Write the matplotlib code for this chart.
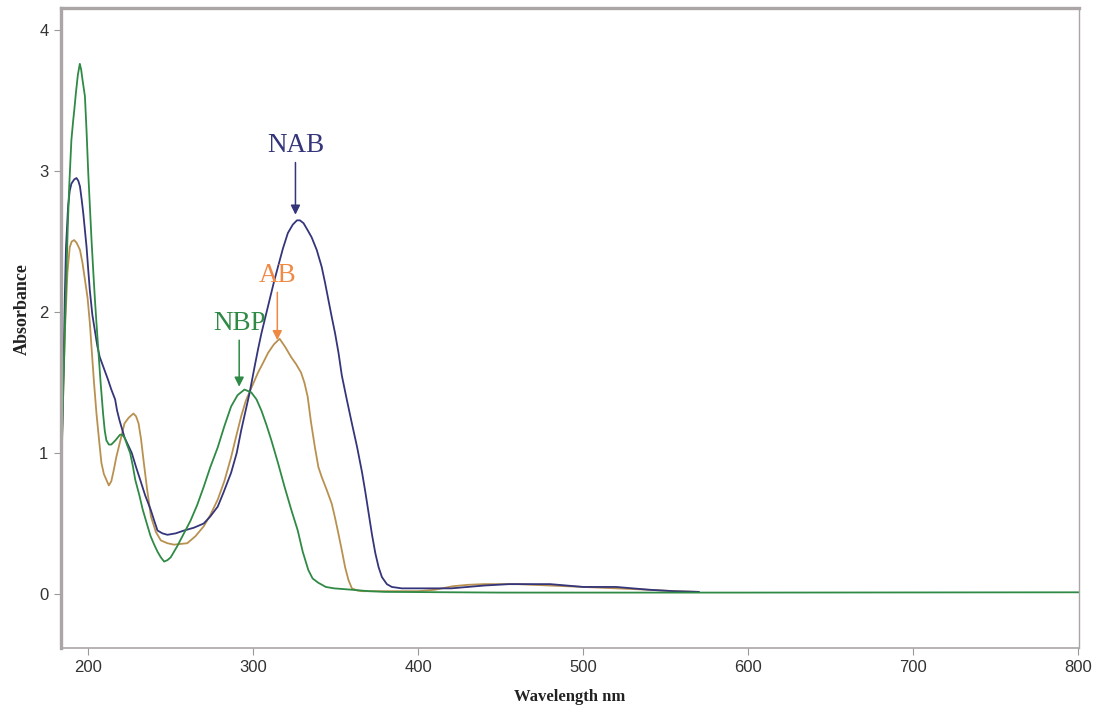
import matplotlib
matplotlib.use("Agg")
import matplotlib.pyplot as plt

# UV-Vis absorption spectra of three compounds
nab_wl = [184.0, 185.0, 185.8, 186.5, 187.8, 188.8, 189.8, 191.5, 192.9, 194.0, 195.0,
          196.0, 197.0, 198.0, 199.0, 200.0, 201.0, 202.5, 204.0, 205.5, 207.0, 209.5,
          212.0, 214.0, 216.3, 217.5, 219.0, 220.5, 222.0, 224.0, 226.4, 229.0, 231.5,
          234.5, 237.8, 240.0, 242.0, 245.0, 248.0, 253.0, 258.0, 264.0, 270.0, 274.0,
          278.5, 282.0, 286.6, 290.0, 292.7, 295.0, 297.7, 300.8, 303.0, 305.0, 307.5,
          310.0, 312.5, 315.0, 318.0, 321.0, 324.0, 326.5, 328.3, 330.5, 333.0, 335.4,
          338.5, 341.5, 343.5, 345.5, 347.5, 349.6, 351.7, 353.7, 356.7, 359.8, 363.0,
          366.0, 368.0, 370.0, 372.0, 374.0, 376.0, 378.0, 381.0, 384.0, 390.0, 400.0,
          420.0, 430.0, 440.0, 455.0, 480.0, 490.0, 500.0, 520.0, 530.0, 540.0, 555.0,
          570.0]
nab_abs = [1.05, 1.60, 2.10, 2.45, 2.75, 2.86, 2.91, 2.94, 2.95, 2.93, 2.89,
           2.80, 2.70, 2.58, 2.46, 2.30, 2.15, 1.98, 1.87, 1.76, 1.68, 1.60,
           1.52, 1.45, 1.38, 1.30, 1.23, 1.17, 1.11, 1.06, 1.00, 0.90, 0.81,
           0.70, 0.60, 0.52, 0.45, 0.43, 0.42, 0.43, 0.45, 0.47, 0.50, 0.55,
           0.62, 0.72, 0.86, 1.00, 1.16, 1.28, 1.42, 1.61, 1.74, 1.85, 1.97,
           2.09, 2.21, 2.32, 2.45, 2.56, 2.62, 2.65, 2.65, 2.63, 2.58, 2.53,
           2.44, 2.32, 2.21, 2.09, 1.97, 1.85, 1.71, 1.55, 1.38, 1.21, 1.04,
           0.86, 0.72, 0.57, 0.42, 0.29, 0.19, 0.12, 0.07, 0.05, 0.04, 0.04,
           0.04, 0.05, 0.06, 0.07, 0.07, 0.06, 0.05, 0.05, 0.04, 0.03, 0.02,
           0.015]

ab_wl = [184.0, 185.0, 186.0, 187.4, 188.8, 190.0, 191.5, 193.0, 195.0, 196.5, 198.0,
         199.6, 201.0, 202.0, 203.5, 205.0, 206.5, 208.0, 209.5, 211.0, 212.5, 214.0,
         215.5, 217.0, 219.5, 222.0, 224.5, 227.4, 229.0, 230.5, 232.0, 233.5, 235.6,
         238.0, 241.0, 244.0, 248.0, 252.0, 256.0, 260.0, 265.0, 270.0, 274.0, 278.5,
         282.5, 286.6, 289.5, 292.7, 295.5, 298.8, 302.9, 306.0, 309.0, 312.5, 316.0,
         319.5, 323.0, 326.0, 329.0, 331.0, 333.0, 335.0, 337.4, 339.5, 341.5, 344.5,
         347.6, 349.6, 351.6, 353.7, 355.7, 357.7, 359.8, 363.0, 366.0, 400.0, 410.0,
         421.0, 430.0, 440.0, 460.0, 480.0, 500.0, 520.0, 540.0, 555.0, 570.0]
ab_abs = [1.05, 1.50, 1.90, 2.28, 2.46, 2.50, 2.51, 2.49, 2.44, 2.35, 2.23,
          2.10, 1.92, 1.75, 1.50, 1.28, 1.10, 0.93, 0.85, 0.81, 0.77, 0.80,
          0.88, 0.97, 1.09, 1.21, 1.25, 1.28, 1.26, 1.21, 1.10, 0.95, 0.75,
          0.55, 0.44, 0.38, 0.36, 0.35, 0.355, 0.36, 0.41, 0.48, 0.56, 0.67,
          0.80, 0.97, 1.11, 1.26, 1.37, 1.46, 1.57, 1.64, 1.71, 1.77, 1.81,
          1.75, 1.68, 1.63, 1.57, 1.50, 1.40, 1.22, 1.04, 0.90, 0.83, 0.74,
          0.64, 0.54, 0.43, 0.31, 0.19, 0.10, 0.04, 0.025, 0.02, 0.02, 0.03,
          0.055, 0.065, 0.07, 0.07, 0.06, 0.05, 0.04, 0.03, 0.02, 0.015]

nbp_wl = [184.0, 185.0, 186.0, 186.8, 187.6, 188.4, 189.8, 190.9, 191.7, 192.5, 193.7,
          194.9, 195.7, 196.5, 198.0, 199.0, 200.0, 201.0, 202.0, 203.0, 204.0, 205.0,
          206.0, 207.5, 209.0, 210.0, 211.0, 212.5, 214.0, 216.5, 219.3, 220.5, 222.0,
          223.5, 225.4, 227.0, 228.5, 231.0, 233.0, 235.5, 237.8, 240.0, 242.0, 244.0,
          246.0, 248.0, 250.0, 252.0, 254.0, 258.0, 262.0, 266.0, 270.0, 274.0, 278.5,
          282.5, 286.6, 290.5, 294.7, 298.8, 302.0, 305.0, 308.0, 311.0, 315.0, 319.0,
          323.0, 327.0, 330.0, 333.4, 336.0, 339.4, 344.0, 349.0, 360.0, 370.0, 380.0,
          450.0, 600.0, 800.0]
nbp_abs = [1.00, 1.50, 1.95, 2.28, 2.60, 2.87, 3.22, 3.36, 3.45, 3.55, 3.68,
           3.76, 3.72, 3.65, 3.53, 3.28, 2.99, 2.75, 2.51, 2.30, 2.10, 1.92,
           1.75, 1.50, 1.28, 1.16, 1.09, 1.06, 1.06, 1.09, 1.13, 1.13, 1.11,
           1.06, 1.00, 0.91, 0.81, 0.70, 0.60, 0.50, 0.41, 0.35, 0.30, 0.26,
           0.23, 0.24, 0.26, 0.30, 0.34, 0.43, 0.52, 0.63, 0.76, 0.90, 1.04,
           1.19, 1.33, 1.41, 1.45, 1.43, 1.38, 1.30, 1.20, 1.09, 0.93, 0.76,
           0.60, 0.45, 0.30, 0.17, 0.11, 0.08, 0.05, 0.04, 0.03, 0.02, 0.015,
           0.01, 0.01, 0.012]

x_ticks = [200, 300, 400, 500, 600, 700, 800]
y_ticks = [0, 1, 2, 3, 4]

# peak labels: text, peak wavelength, peak absorbance
peak_labels = ["NAB", "AB", "NBP"]
peak_wl = [325.6, 314.6, 291.5]
peak_abs = [2.69, 1.80, 1.47]

c_nab = "#34357a"
c_ab = "#b89150"
c_ab_txt = "#ef8a45"
c_nbp = "#2f8a45"

fig = plt.figure(figsize=(10.96, 7.12), dpi=100)
ax = fig.add_axes([61 / 1096, 1 - 648 / 712, (1079 - 61) / 1096, (648 - 8) / 712])

ax.plot(ab_wl, ab_abs, color=c_ab, lw=1.3)
ax.plot(nab_wl, nab_abs, color=c_nab, lw=1.3)
ax.plot(nbp_wl, nbp_abs, color=c_nbp, lw=1.3)

ax.set_xlim(183.5, 800.5)
ax.set_ylim(-0.383, 4.156)
ax.set_xticks(x_ticks)
ax.set_yticks(y_ticks)
ax.tick_params(direction="out", length=5, width=0.8, color="#999999",
               labelcolor="#333333", labelsize=12, pad=4)
for lab in ax.get_xticklabels() + ax.get_yticklabels():
    lab.set_fontfamily("Liberation Sans")

spine_col = "#aba5a5"
ax.spines["left"].set_linewidth(2.4)
ax.spines["top"].set_linewidth(2.4)
ax.spines["bottom"].set_linewidth(1.2)
ax.spines["right"].set_linewidth(1.0)
for s in ax.spines.values():
    s.set_color(spine_col)

txt_cols = [c_nab, c_ab_txt, c_nbp]
arrow_cols = [c_nab, c_ab_txt, c_nbp]
arrow_len = [0.37, 0.34, 0.33]
for lab, wl, a, tc, acol, L in zip(peak_labels, peak_wl, peak_abs, txt_cols, arrow_cols, arrow_len):
    ax.annotate("", xy=(wl, a), xytext=(wl, a + L),
                arrowprops=dict(arrowstyle="-|>", color=acol, lw=1.1,
                                mutation_scale=14, shrinkA=0, shrinkB=0))
    ax.text(wl, a + L + 0.03, lab, color=tc, fontsize=19.5,
            fontfamily="Liberation Serif", ha="center", va="bottom")

fig.text(570 / 1096, 1 - 697 / 712, "Wavelength nm", ha="center", va="center",
         fontsize=12, fontweight="bold", fontfamily="Liberation Serif", color="#222222")
fig.text(22 / 1096, 1 - 309 / 712, "Absorbance", ha="center", va="center",
         rotation=90, fontsize=13, fontweight="bold", fontfamily="Liberation Serif",
         color="#222222")

fig.savefig("out.png", dpi=100, facecolor="white")
